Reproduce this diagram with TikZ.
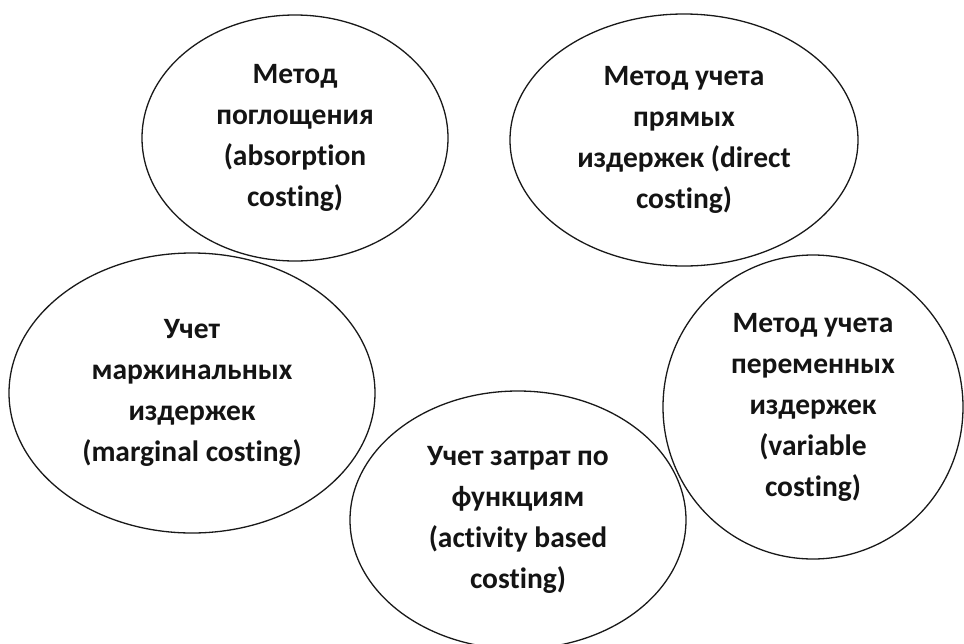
\documentclass[tikz,border=0pt]{standalone}
\usepackage{fontspec}
\setmainfont{Carlito}[Ligatures=NoCommon]
\usetikzlibrary{shapes.geometric}

\begin{document}
\begin{tikzpicture}[x=1pt,y=-1pt,
            meth/.style={ellipse,draw=black!90,line width=1.3pt,inner sep=0pt,align=center,
                         text=black!92,font=\fontsize{29.5}{41}\selectfont\bfseries}]
            		\useasboundingbox (0,0) rectangle (964,643);
            		\node (a) at (295,138) [meth,minimum width=306pt,minimum height=246pt] {Метод\\поглощения\\(absorption\\costing)};
            		\node (b) at (684,140) [meth,minimum width=348pt,minimum height=252pt] {Метод учета\\прямых\\издержек (direct\\costing)};
            		\node (c) at (192,393) [meth,minimum width=366pt,minimum height=280pt] {Учет\\маржинальных\\издержек\\(marginal costing)};
            		\node (d) at (518,520) [meth,minimum width=336pt,minimum height=258pt] {Учет затрат по\\функциям\\(activity based\\costing)};
            		\node (e) at (813,407) [meth,minimum width=300pt,minimum height=304pt] {Метод учета\\переменных\\издержек\\(variable\\costing)};
        		\end{tikzpicture}
\end{document}
